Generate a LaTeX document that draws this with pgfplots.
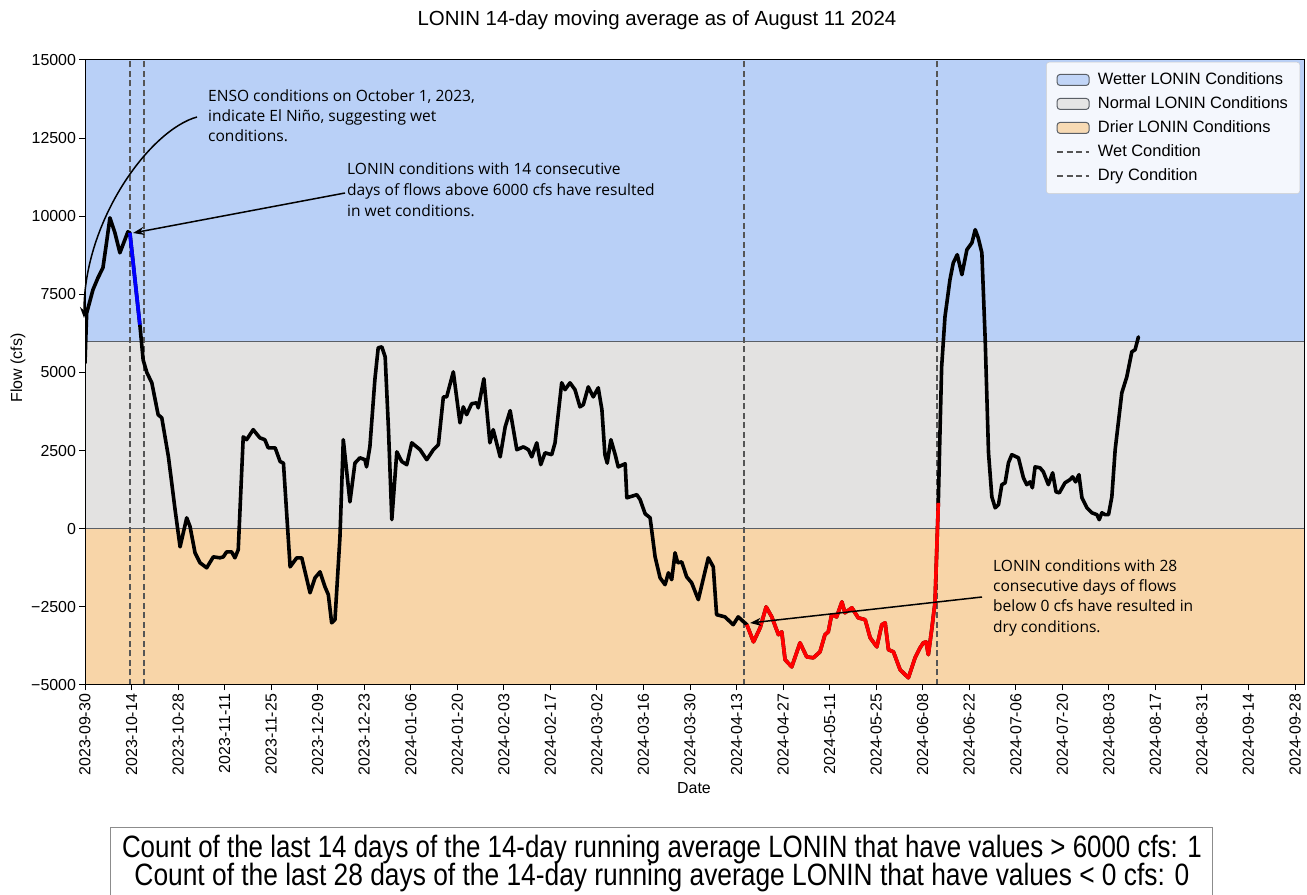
\documentclass[border=0pt]{standalone}
\usepackage{fontspec}
\setmainfont{Liberation Sans}
\newfontfamily\annfont{Open Sans}
\usepackage{graphicx}
\usepackage{pgfplots}
\pgfplotsset{compat=1.18}
\usetikzlibrary{arrows.meta}
\definecolor{wetblue}{HTML}{B9D0F7}
\definecolor{normgray}{HTML}{E3E2E1}
\definecolor{dryorange}{HTML}{F8D5A8}
\definecolor{spanedge}{HTML}{5A5F66}
\definecolor{vline}{HTML}{555555}
\pgfplotstableread{
d v
0 5300
0.5 6900
2.4 7650
3.9 8030
5.4 8350
6.6 9250
7.5 9950
9.0 9470
10.5 8830
12.0 9250
12.9 9500
13.5 9470
16.5 6530
17.5 5400
18.6 5000
20.1 4670
22.0 3650
23.1 3550
25.1 2300
27.1 610
28.6 -580
30.6 350
31.6 70
33.1 -770
34.6 -1090
36.6 -1250
38.6 -900
40.6 -930
41.6 -900
42.6 -740
44.1 -740
45.1 -930
46.1 -670
47.6 2940
48.6 2850
50.6 3170
52.6 2910
54.1 2850
55.1 2590
57.2 2590
58.7 2150
59.7 2100
61.7 -1220
63.7 -930
65.2 -930
67.7 -2050
69.2 -1570
70.7 -1380
72.2 -1860
73.2 -2110
74.2 -3010
75.2 -2910
76.7 -260
77.7 2850
79.7 860
81.2 2100
82.7 2270
84.2 2210
84.7 1980
85.7 2620
87.2 4770
88.2 5790
89.3 5820
90.3 5500
91.3 3170
92.3 290
93.8 2460
95.3 2150
96.8 2050
98.3 2750
100.8 2530
102.8 2210
104.8 2530
106.3 2690
107.8 4220
108.8 4220
110.8 5020
112.8 3390
113.8 3900
114.8 3650
116.3 4000
117.8 4030
118.3 3870
120.0 4800
121.8 2750
122.8 3170
124.9 2300
126.4 3260
127.9 3780
129.9 2530
131.9 2620
133.4 2530
134.4 2300
135.9 2750
137.1 2050
138.4 2430
140.4 2370
141.4 2750
143.4 4670
144.4 4450
145.9 4670
147.4 4450
148.9 3900
149.9 3970
151.4 4540
152.9 4220
154.4 4510
155.5 3810
156.4 2370
157.1 2100
158.2 2850
159.5 2370
160.4 1980
162.5 2080
163.0 990
166.0 1090
167.0 930
168.5 480
170.0 350
171.5 -900
173.0 -1570
174.5 -1790
175.5 -1410
176.5 -1630
177.5 -770
178.3 -1090
179.5 -1060
181.0 -1540
182.5 -1730
184.5 -2270
187.5 -930
189.0 -1220
190.0 -2750
192.5 -2820
195.0 -3070
196.5 -2820
199.1 -3070
201.1 -3620
203.1 -3170
204.9 -2500
206.6 -2820
208.6 -3390
209.6 -3300
210.6 -4190
212.6 -4420
215.1 -3650
217.1 -4100
219.1 -4130
221.1 -3940
222.6 -3390
223.6 -3300
224.6 -2750
226.1 -2820
227.7 -2340
228.6 -2690
230.7 -2530
232.6 -2850
234.7 -2910
236.2 -3490
238.2 -3780
239.7 -3070
240.7 -3010
241.7 -3870
243.2 -3940
245.2 -4510
247.7 -4770
249.7 -4130
251.2 -3810
252.2 -3650
253.0 -3620
253.7 -4030
254.7 -3230
255.7 -2370
256.4 -130
256.7 830
257.2 3070
257.7 5180
258.7 6780
260.2 7970
261.2 8510
262.4 8770
263.8 8130
265.3 8930
266.8 9150
267.8 9570
268.7 9310
269.8 8830
270.8 6050
271.8 2430
272.8 1020
273.8 670
274.8 770
275.8 1410
276.8 1470
277.8 2110
278.8 2370
280.8 2270
282.3 1630
283.3 1410
284.3 1500
285.0 1310
285.8 1980
287.3 1950
288.3 1820
289.8 1410
291.1 1790
292.1 1180
293.1 1150
294.8 1470
296.3 1570
297.1 1660
298.0 1500
299.0 1730
299.9 990
301.4 670
302.9 510
304.4 450
305.1 290
305.9 510
306.9 450
307.9 450
308.9 1020
309.9 2530
311.9 4350
313.4 4860
314.9 5660
315.9 5730
316.9 6140
}\flowdata
\pgfplotstableread{
d v
13.5 9470
16.5 6530
}\wetseg
\pgfplotstableread{
d v
199.1 -3070
201.1 -3620
203.1 -3170
204.9 -2500
206.6 -2820
208.6 -3390
209.6 -3300
210.6 -4190
212.6 -4420
215.1 -3650
217.1 -4100
219.1 -4130
221.1 -3940
222.6 -3390
223.6 -3300
224.6 -2750
226.1 -2820
227.7 -2340
228.6 -2690
230.7 -2530
232.6 -2850
234.7 -2910
236.2 -3490
238.2 -3780
239.7 -3070
240.7 -3010
241.7 -3870
243.2 -3940
245.2 -4510
247.7 -4770
249.7 -4130
251.2 -3810
252.2 -3650
253.0 -3620
253.7 -4030
254.7 -3230
255.7 -2370
256.4 -130
256.7 830
}\dryseg
\begin{document}
\begin{tikzpicture}
\useasboundingbox (0,0) rectangle (1307bp,895bp);
\begin{axis}[
  at={(85bp,210bp)}, anchor=south west,
  width=1220bp, height=625bp, scale only axis,
  xmin=0, xmax=367, ymin=-5000, ymax=15000,
  scaled y ticks=false,
  xtick={0,14,...,364},
  xticklabels={2023-09-30,2023-10-14,2023-10-28,2023-11-11,2023-11-25,2023-12-09,2023-12-23,2024-01-06,2024-01-20,2024-02-03,2024-02-17,2024-03-02,2024-03-16,2024-03-30,2024-04-13,2024-04-27,2024-05-11,2024-05-25,2024-06-08,2024-06-22,2024-07-06,2024-07-20,2024-08-03,2024-08-17,2024-08-31,2024-09-14,2024-09-28},
  ytick={-5000,-2500,0,2500,5000,7500,10000,12500,15000},
  yticklabels={−5000,−2500,0,2500,5000,7500,10000,12500,15000},
  xticklabel style={rotate=90, anchor=east, font=\fontsize{16}{19}\selectfont},
  yticklabel style={font=\fontsize{16}{19}\selectfont},
  tick align=outside, major tick length=5.5bp,
  tick pos=left,
  axis line style={line width=1bp, black},
  every tick/.style={black, line width=1bp},
  axis on top,
  legend cell align=left,
  legend style={at={(0.996,0.9968)}, anchor=north east,
    font=\fontsize{16.5}{19}\selectfont, draw=black!20, fill=white,
    fill opacity=0.85, draw opacity=1, text opacity=1,
    rounded corners=3bp, inner xsep=10bp, inner ysep=7.5bp, row sep=3.5bp,
    column sep=6bp,
    nodes={text height=12.5bp, text depth=4bp}},
]
\addplot[draw=none, fill=wetblue, forget plot] coordinates {(-5,6000) (372,6000) (372,15500) (-5,15500)};
\addplot[draw=none, fill=normgray, forget plot] coordinates {(-5,0) (372,0) (372,6000) (-5,6000)};
\addplot[draw=none, fill=dryorange, forget plot] coordinates {(-5,-5500) (372,-5500) (372,0) (-5,0)};
\addplot[spanedge, line width=1.3bp, forget plot] coordinates {(-5,6000) (372,6000)};
\addplot[spanedge, line width=1.3bp, forget plot] coordinates {(-5,0) (372,0)};
\addplot[vline, line width=1.6bp, dash pattern=on 6bp off 3.5bp, forget plot] coordinates {(13.6,-5000) (13.6,15000)};
\addplot[vline, line width=1.6bp, dash pattern=on 6bp off 3.5bp, forget plot] coordinates {(17.8,-5000) (17.8,15000)};
\addplot[vline, line width=1.6bp, dash pattern=on 6bp off 3.5bp, forget plot] coordinates {(198.3,-5000) (198.3,15000)};
\addplot[vline, line width=1.6bp, dash pattern=on 6bp off 3.5bp, forget plot] coordinates {(256.3,-5000) (256.3,15000)};
\addplot[black, line width=3.6bp, line join=round, line cap=round, forget plot] table[x=d, y=v] {\flowdata};
\addplot[blue, line width=3.6bp, line join=round, forget plot] table[x=d, y=v] {\wetseg};
\addplot[red, line width=3.6bp, line join=round, forget plot] table[x=d, y=v] {\dryseg};
\addlegendimage{legend image code/.code={\draw[fill=wetblue, draw=spanedge, line width=1bp] (0bp,-5.5bp) rectangle (32bp,5.5bp);}}
\addlegendentry{Wetter LONIN Conditions}
\addlegendimage{legend image code/.code={\draw[fill=normgray, draw=spanedge, line width=1bp] (0bp,-5.5bp) rectangle (32bp,5.5bp);}}
\addlegendentry{Normal LONIN Conditions}
\addlegendimage{legend image code/.code={\draw[fill=dryorange, draw=spanedge, line width=1bp] (0bp,-5.5bp) rectangle (32bp,5.5bp);}}
\addlegendentry{Drier LONIN Conditions}
\addlegendimage{legend image code/.code={\draw[vline, line width=1.6bp, dash pattern=on 6bp off 3.5bp] (0bp,0bp) -- (32bp,0bp);}}
\addlegendentry{Wet Condition}
\addlegendimage{legend image code/.code={\draw[vline, line width=1.6bp, dash pattern=on 6bp off 3.5bp] (0bp,0bp) -- (32bp,0bp);}}
\addlegendentry{Dry Condition}
\end{axis}
% titles and labels
\node[font=\fontsize{20.5}{24}\selectfont] at (657bp,875bp) {LONIN 14-day moving average as of August 11 2024};
\node[rotate=90, font=\fontsize{16}{19}\selectfont] at (18bp,527bp) {Flow (cfs)};
\node[font=\fontsize{16}{19}\selectfont] at (694bp,107bp) {Date};
% annotations
\node[anchor=north west, align=left, inner sep=0pt, font=\annfont\fontsize{15.6}{20}\selectfont] at (208bp,805bp) {ENSO conditions on October 1, 2023,\\indicate El Niño, suggesting wet\\conditions.};
\node[anchor=north west, align=left, inner sep=0pt, font=\annfont\fontsize{15.6}{21}\selectfont] at (347bp,732bp) {LONIN conditions with 14 consecutive\\days of flows above 6000 cfs have resulted\\in wet conditions.};
\node[anchor=north west, align=left, inner sep=0pt, font=\annfont\fontsize{15.6}{20.5}\selectfont] at (993bp,336bp) {LONIN conditions with 28\\consecutive days of flows\\below 0 cfs have resulted in\\dry conditions.};
\draw[line width=1.5bp, -{Stealth[length=11bp, width=8bp]}] (197bp,778bp) .. controls (150bp,765bp) and (84bp,675bp) .. (84bp,577bp);
\draw[line width=1.5bp, -{Stealth[length=11bp, width=8bp]}] (345bp,702bp) -- (133bp,662bp);
\draw[line width=1.5bp, -{Stealth[length=11bp, width=8bp]}] (982bp,298bp) -- (750bp,272bp);
% bottom text box
\draw[black!45, line width=1bp] (110bp,67bp) rectangle (1212bp,-10bp);
\node[inner sep=0pt] at (662bp,45bp) {\resizebox{1080bp}{\height}{\fontsize{31}{34}\selectfont Count of the last 14 days of the 14-day running average LONIN that have values > 6000 cfs: 1}};
\node[inner sep=0pt] at (662bp,17bp) {\resizebox{1055bp}{\height}{\fontsize{31}{34}\selectfont Count of the last 28 days of the 14-day running average LONIN that have values < 0 cfs: 0}};
\end{tikzpicture}
\end{document}
